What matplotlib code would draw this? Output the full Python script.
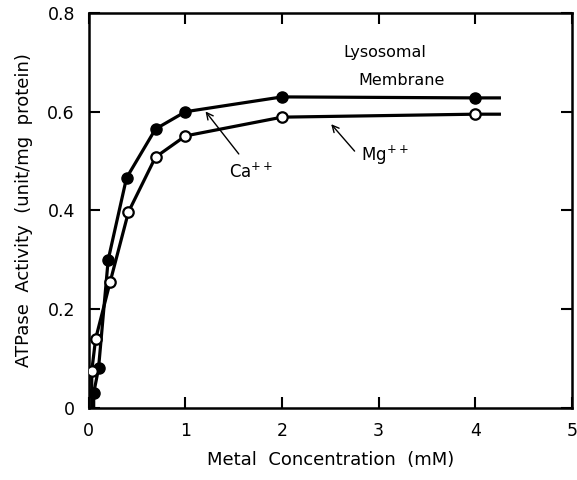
#!/usr/bin/env python3
"""
Lysosomal membrane ATPase activity vs metal concentration (Ca++ / Mg++).
Writes out.png.
"""
import matplotlib
matplotlib.use("Agg")
import matplotlib.pyplot as plt

# Ca++ (filled circles)
ca_x = [0.05, 0.10, 0.20, 0.39, 0.69, 1.0, 2.0, 4.0]
ca_y = [0.03, 0.08, 0.30, 0.466, 0.565, 0.60, 0.63, 0.628]

# Mg++ (open circles)
mg_x = [0.03, 0.07, 0.22, 0.41, 0.69, 1.0, 2.0, 4.0]
mg_y = [0.075, 0.14, 0.255, 0.397, 0.508, 0.551, 0.589, 0.595]

# lines run a bit past the last point and down to the axis
line_end_x = 4.25
ca_start = (0.05, 0.0)
mg_start = (0.03, 0.0)

x_ticks = [0, 1, 2, 3, 4, 5]
y_ticks = [0, 0.2, 0.4, 0.6, 0.8]
y_tick_labels = ["0", "0.2", "0.4", "0.6", "0.8"]

plt.rcParams["font.family"] = ["DejaVu Sans"]

fig = plt.figure(figsize=(5.77, 4.8), dpi=100)
ax = fig.add_axes([0.154, 0.15, 0.837, 0.823])

# connecting lines
ax.plot([ca_start[0]] + ca_x + [line_end_x], [ca_start[1]] + ca_y + [ca_y[-1]],
        "-", color="black", lw=2.3, zorder=2)
ax.plot([mg_start[0]] + mg_x + [line_end_x], [mg_start[1]] + mg_y + [mg_y[-1]],
        "-", color="black", lw=2.3, zorder=2)

# markers
ax.plot(ca_x, ca_y, "o", color="black", markersize=8, zorder=3)
ax.plot(mg_x, mg_y, "o", markerfacecolor="white", markeredgecolor="black",
        markeredgewidth=1.6, markersize=7.5, zorder=4)

# labels and arrows
ax.text(3.06, 0.72, "Lysosomal", ha="center", va="center", fontsize=11.5)
ax.text(3.24, 0.664, "Membrane", ha="center", va="center", fontsize=11.5)
ax.annotate("", xy=(1.19, 0.605), xytext=(1.57, 0.51),
            arrowprops=dict(arrowstyle="->", color="black", lw=1.0,
                            mutation_scale=12))
ax.text(1.45, 0.478, "Ca$^{++}$", ha="left", va="center", fontsize=12)
ax.annotate("", xy=(2.49, 0.579), xytext=(2.77, 0.516),
            arrowprops=dict(arrowstyle="->", color="black", lw=1.0,
                            mutation_scale=12))
ax.text(2.82, 0.512, "Mg$^{++}$", ha="left", va="center", fontsize=12)

ax.set_xlim(0, 5)
ax.set_ylim(0, 0.8)
ax.set_xticks(x_ticks)
ax.set_yticks(y_ticks)
ax.set_yticklabels(y_tick_labels)
ax.tick_params(direction="in", top=True, right=True, length=8, width=1.5,
               labelsize=12.5, pad=10)
for s in ax.spines.values():
    s.set_linewidth(1.8)

ax.set_xlabel("Metal  Concentration  (mM)", fontsize=13, labelpad=8)
ax.set_ylabel("ATPase  Activity  (unit/mg  protein)", fontsize=13, labelpad=10)

fig.savefig("out.png", dpi=100)
plt.close(fig)
